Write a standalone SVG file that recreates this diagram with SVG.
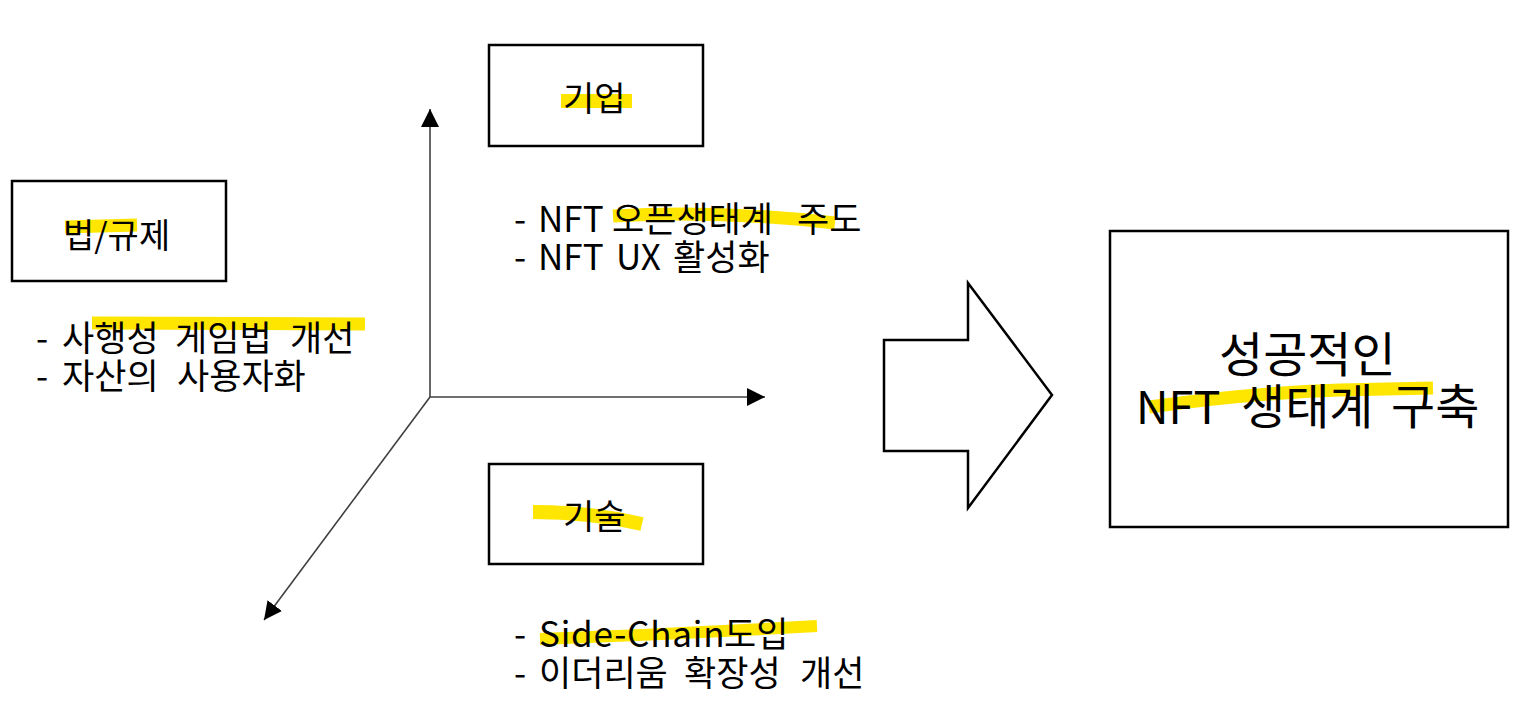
<svg xmlns="http://www.w3.org/2000/svg" width="1526" height="722" viewBox="0 0 1526 722">
<defs>
<style>
.box{fill:#fff;stroke:#000;stroke-width:2.5}
.hl{fill:none;stroke:#FFE600;stroke-linecap:butt}
.t{font-family:"Noto Sans CJK KR","Noto Sans",sans-serif;fill:#000}
.h{font-size:35px}
.lab{font-size:34px}
.big{font-size:48px}
.ax{stroke:#404040;stroke-width:1.6;fill:none}
</style>
<marker id="ah" viewBox="0 0 10 10" refX="10" refY="5" markerWidth="18" markerHeight="18" markerUnits="userSpaceOnUse" orient="auto">
<path d="M0,0 L10,5 L0,10 Z" fill="#000"/>
</marker>
</defs>
<rect width="1526" height="722" fill="#fff"/>

<g id="connectors">
<line class="ax" x1="430" y1="397" x2="430" y2="109" marker-end="url(#ah)"/>
<line class="ax" x1="430" y1="397" x2="765" y2="397" marker-end="url(#ah)"/>
<line class="ax" x1="430" y1="397" x2="264" y2="620" marker-end="url(#ah)"/>
<path id="bigArrow" d="M884,340 L968,340 L968,283 L1052,395 L968,508 L968,451 L884,451 Z" fill="#fff" stroke="#000" stroke-width="2.5" stroke-linejoin="miter"/>
</g>

<g id="law">
<rect class="box" x="12" y="181" width="214" height="100"/>
<path class="hl" d="M65,227 L137,225" stroke-width="13"/>
<text class="t lab" x="63" y="248">법/규제</text>
</g>
<g id="law-notes">
<path class="hl" d="M92,323 L365,324" stroke-width="13"/>
<text class="t h" y="351"><tspan x="36">-</tspan><tspan x="62">사행성</tspan><tspan x="175">게임법</tspan><tspan x="290">개선</tspan></text>
<text class="t h" y="389"><tspan x="36">-</tspan><tspan x="62">자산의</tspan><tspan x="177">사용자화</tspan></text>
</g>

<g id="company">
<rect class="box" x="489" y="45" width="214" height="101"/>
<path class="hl" d="M561,101 L632,101" stroke-width="14"/>
<text class="t lab" x="563" y="111">기업</text>
</g>
<g id="company-notes">
<path class="hl" d="M613,216 Q720,210 835,223" stroke-width="13"/>
<text class="t h" y="232"><tspan x="514">-</tspan><tspan x="538">NFT</tspan><tspan x="612">오픈생태계</tspan><tspan x="797">주도</tspan></text>
<text class="t h" y="270"><tspan x="514">-</tspan><tspan x="538">NFT</tspan><tspan x="616">UX</tspan><tspan x="673">활성화</tspan></text>
</g>

<g id="tech">
<rect class="box" x="489" y="464" width="214" height="100"/>
<path class="hl" d="M533,512 Q590,512 642,524" stroke-width="14"/>
<text class="t lab" x="563" y="529">기술</text>
</g>
<g id="tech-notes">
<path class="hl" d="M540,639 Q680,634 817,626" stroke-width="12"/>
<text class="t h" y="647"><tspan x="514">-</tspan><tspan x="539" style="letter-spacing:0.8px">Side-Chain</tspan><tspan x="724">도입</tspan></text>
<text class="t h" y="686"><tspan x="514">-</tspan><tspan x="539">이더리움</tspan><tspan x="684">확장성</tspan><tspan x="800">개선</tspan></text>
</g>

<g id="goal">
<rect class="box" x="1110" y="231" width="398" height="296"/>
<path class="hl" d="M1149,407 Q1250,393 1340,390 L1433,388" stroke-width="13"/>
<text class="t big" x="1219" y="372">성공적인</text>
<text class="t big" y="424"><tspan x="1136" style="font-size:45px">NFT</tspan><tspan x="1241">생태계</tspan><tspan x="1391">구축</tspan></text>
</g>
</svg>
